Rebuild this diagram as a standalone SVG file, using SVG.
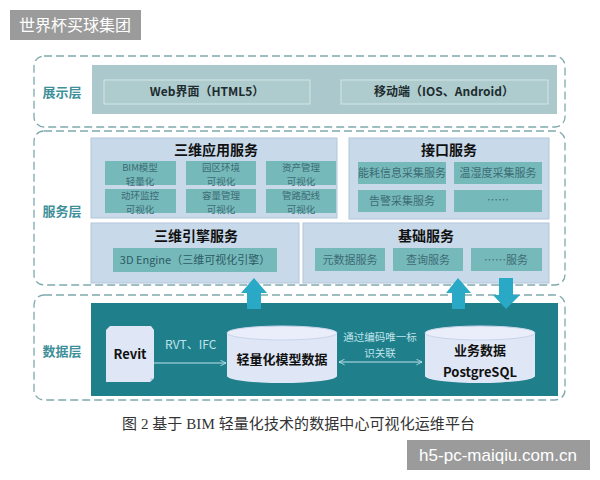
<svg xmlns="http://www.w3.org/2000/svg" width="600" height="480" viewBox="0 0 600 480">
<defs>
<style>
.layer{fill:none;stroke:#7fa9ad;stroke-width:1.3;stroke-dasharray:8 4}
.lbl{font-family:"Noto Sans CJK SC",sans-serif;font-weight:bold;font-size:13px;fill:#3e9099;text-anchor:middle}
.band1{fill:#abc9cc}
.wbox{fill:#aecbcd;stroke:#d3e6e6;stroke-width:1}
.wtxt{font-family:"Noto Sans CJK SC",sans-serif;font-weight:bold;font-size:12px;fill:#1d2c2f;text-anchor:middle}
.panel{fill:#c8d9ea;stroke:#b1c6da;stroke-width:1}
.ptitle{font-family:"Noto Sans CJK SC",sans-serif;font-weight:bold;font-size:14px;fill:#111;text-anchor:middle}
.sub{fill:#76b9bb}
.stxt{font-family:"Noto Sans CJK SC",sans-serif;font-size:11px;fill:#3d6b74;text-anchor:middle}
.s2{font-family:"Noto Sans CJK SC",sans-serif;font-size:9.5px;fill:#3d6b74;text-anchor:middle}
.up{fill:#29a9c6}
.cyl{fill:#dfe7f6}
.cyltop{fill:#e9eefa;stroke:#c9d4ea;stroke-width:1}
.dtxt{font-family:"Noto Sans CJK SC",sans-serif;font-weight:bold;font-size:13px;fill:#111;text-anchor:middle}
.ltxt{font-family:"Noto Sans CJK SC",sans-serif;font-size:10.5px;fill:#bfe4ec;text-anchor:middle}
.ltxt2{font-family:"Noto Sans CJK SC",sans-serif;font-size:12px;fill:#bfe4ec}
.wm{fill:#9b9b9b}
</style>
<marker id="ah" viewBox="0 0 10 10" refX="9" refY="5" markerWidth="7" markerHeight="7" orient="auto-start-reverse">
<path d="M1,1 L9,5 L1,9" fill="none" stroke="#bfe4ec" stroke-width="1.2"/>
</marker>
</defs>
<rect width="600" height="480" fill="#fff"/>

<g id="watermark-top">
<rect class="wm" x="10" y="10" width="131" height="30"/>
<text x="75" y="31" font-family="Noto Sans CJK SC, sans-serif" font-size="16" fill="#fff" text-anchor="middle">世界杯买球集团</text>
</g>

<g id="layer-display">
<rect class="layer" x="34" y="56" width="531" height="71" rx="10"/>
<text class="lbl" x="62" y="97">展示层</text>
<rect class="band1" x="92" y="65" width="465" height="49"/>
</g>
<g id="node-web">
<rect class="wbox" x="104" y="80" width="206" height="24"/>
<text class="wtxt" x="207" y="96">Web界面（HTML5）</text>
</g>
<g id="node-mobile">
<rect class="wbox" x="341" y="80" width="207" height="24"/>
<text class="wtxt" x="444" y="96">移动端（IOS、Android）</text>
</g>

<g id="layer-service">
<rect class="layer" x="34" y="131" width="531" height="154" rx="10"/>
<text class="lbl" x="62" y="216">服务层</text>
</g>

<g id="node-3dapp">
<rect class="panel" x="91" y="138" width="246" height="80"/>
<text class="ptitle" x="216" y="155">三维应用服务</text>
<rect class="sub" x="105" y="161" width="71" height="24"/>
<text class="s2" x="140" y="170.5">BIM模型<tspan x="140" dy="14">轻量化</tspan></text>
<rect class="sub" x="186" y="161" width="70" height="24"/>
<text class="s2" x="221" y="170.5">园区环境<tspan x="221" dy="14">可视化</tspan></text>
<rect class="sub" x="266" y="161" width="70" height="24"/>
<text class="s2" x="301" y="170.5">资产管理<tspan x="301" dy="14">可视化</tspan></text>
<rect class="sub" x="105" y="189" width="71" height="24"/>
<text class="s2" x="140" y="198.5">动环监控<tspan x="140" dy="14">可视化</tspan></text>
<rect class="sub" x="186" y="189" width="70" height="24"/>
<text class="s2" x="221" y="198.5">容量管理<tspan x="221" dy="14">可视化</tspan></text>
<rect class="sub" x="266" y="189" width="70" height="24"/>
<text class="s2" x="301" y="198.5">管路配线<tspan x="301" dy="14">可视化</tspan></text>
</g>

<g id="node-interface">
<rect class="panel" x="349" y="138" width="200" height="81"/>
<text class="ptitle" x="449" y="155">接口服务</text>
<rect class="sub" x="358" y="162" width="88" height="22"/>
<text class="stxt" x="402" y="177">能耗信息采集服务</text>
<rect class="sub" x="454" y="162" width="88" height="22"/>
<text class="stxt" x="498" y="177">温湿度采集服务</text>
<rect class="sub" x="358" y="190" width="88" height="22"/>
<text class="stxt" x="402" y="205">告警采集服务</text>
<rect class="sub" x="454" y="190" width="88" height="22"/>
<text class="stxt" x="498" y="204">……</text>
</g>

<g id="node-3dengine">
<rect class="panel" x="91" y="223" width="208" height="60"/>
<text class="ptitle" x="196" y="241">三维引擎服务</text>
<rect class="sub" x="113" y="248" width="164" height="24"/>
<text class="stxt" x="195" y="264" style="font-size:11px;fill:#2c5b64">3D Engine（三维可视化引擎）</text>
</g>

<g id="node-base">
<rect class="panel" x="303" y="223" width="246" height="60"/>
<text class="ptitle" x="426" y="241">基础服务</text>
<rect class="sub" x="315" y="248" width="70" height="23"/>
<text class="stxt" x="350" y="264">元数据服务</text>
<rect class="sub" x="393" y="248" width="70" height="23"/>
<text class="stxt" x="428" y="264">查询服务</text>
<rect class="sub" x="471" y="248" width="71" height="23"/>
<text class="stxt" x="506" y="264">……服务</text>
</g>

<g id="layer-data">
<rect class="layer" x="34" y="295" width="531" height="105" rx="10"/>
<text class="lbl" x="62" y="356">数据层</text>
<rect x="91" y="303" width="467" height="93" fill="#1f7f8b"/>
</g>

<g id="node-revit">
<path d="M110,326 L151,326 L154,330 L154,378 L150,382 L106,382 L106,330 Z" fill="#dfe7f6"/>
<path d="M150,382 L150,378 L154,378" fill="#c7d3ea"/>
<text class="dtxt" x="130" y="359">Revit</text>
</g>

<g id="node-lightdata">
<path d="M227,333 L227,376 A55,7 0 0 0 337,376 L337,333 Z" class="cyl"/>
<ellipse class="cyltop" cx="282" cy="333" rx="55" ry="7"/>
<text class="dtxt" x="282" y="364">轻量化模型数据</text>
</g>

<g id="node-bizdata">
<path d="M425,333 L425,376 A55,7 0 0 0 535,376 L535,333 Z" class="cyl"/>
<ellipse class="cyltop" cx="480" cy="333" rx="55" ry="7"/>
<text class="dtxt" x="480" y="355">业务数据</text>
<text class="dtxt" x="480" y="377">PostgreSQL</text>
</g>

<g id="connectors">
<line x1="154" y1="363" x2="226" y2="363" stroke="#bfe4ec" stroke-width="1" marker-end="url(#ah)"/>
<text class="ltxt2" x="165" y="349">RVT、IFC</text>
<line x1="339" y1="362" x2="422" y2="362" stroke="#bfe4ec" stroke-width="1" marker-start="url(#ah)" marker-end="url(#ah)"/>
<text class="ltxt" x="380" y="341">通过编码唯一标<tspan x="380" dy="15.5">识关联</tspan></text>
<polygon class="up" points="254,278 267,293 261,293 261,309 247,309 247,293 241,293"/>
<polygon class="up" points="458,278 471,293 465,293 465,309 452,309 452,293 446,293"/>
<polygon class="up" points="499,278 513,278 513,295 520,295 506,309 493,295 499,295"/>
</g>

<g id="caption">
<text x="122" y="429" font-family="Liberation Serif, Noto Sans CJK SC, serif" font-size="15" fill="#333" textLength="353" lengthAdjust="spacing">图 2 基于 BIM 轻量化技术的数据中心可视化运维平台</text>
</g>

<g id="watermark-bottom">
<rect class="wm" x="407" y="440" width="183" height="30"/>
<text x="498" y="461" font-family="Liberation Sans, sans-serif" font-size="17" fill="#fff" text-anchor="middle">h5-pc-maiqiu.com.cn</text>
</g>
</svg>
